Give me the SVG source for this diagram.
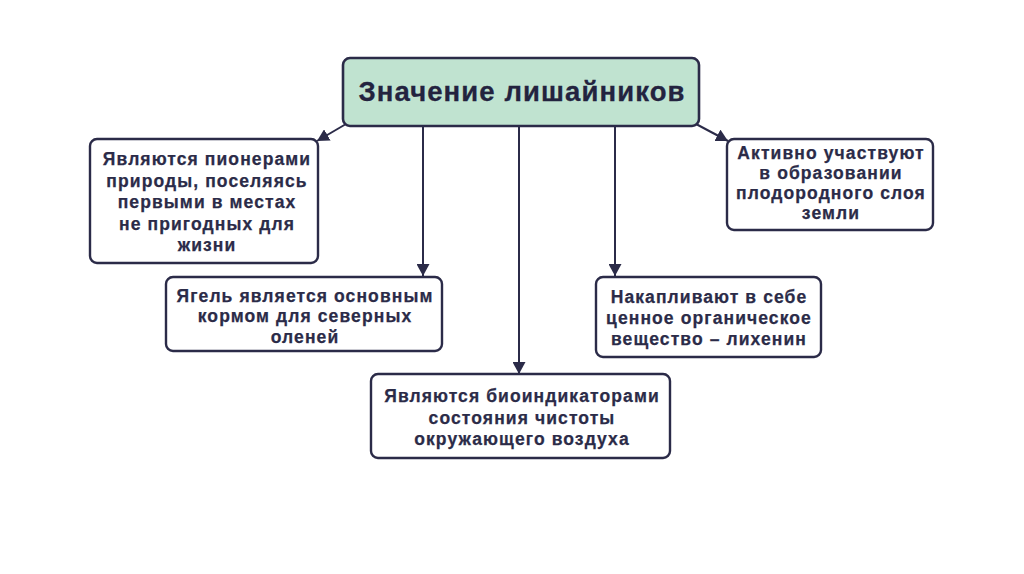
<svg xmlns="http://www.w3.org/2000/svg" width="1024" height="574" viewBox="0 0 1024 574">
<defs>
<style>
.box{fill:#ffffff;stroke:#2b2b48;stroke-width:2.4}
.title{fill:#c0e3d0;stroke:#2b2b48;stroke-width:2.6}
.t{font-family:"Liberation Sans",Arial,sans-serif;font-weight:bold;font-size:17.5px;letter-spacing:1.1px;fill:#2b2b48;stroke:#2b2b48;stroke-width:0.25;text-anchor:middle}
.tt{font-family:"Liberation Sans",Arial,sans-serif;font-weight:bold;font-size:27.5px;letter-spacing:1.1px;fill:#23233f;stroke:#23233f;stroke-width:0.3;text-anchor:middle}
.c{stroke:#2b2b48;stroke-width:2;fill:none}
</style>
<marker id="ah" viewBox="0 0 12 13" refX="12" refY="6.5" markerWidth="12" markerHeight="13" markerUnits="userSpaceOnUse" orient="auto">
<path d="M0,0 L12,6.5 L0,13 z" fill="#2b2b48"/>
</marker>
</defs>
<rect width="1024" height="574" fill="#ffffff"/>
<g id="connectors">
<line class="c" x1="423" y1="127" x2="423" y2="276" marker-end="url(#ah)"/>
<line class="c" x1="519" y1="127" x2="519" y2="374" marker-end="url(#ah)"/>
<line class="c" x1="615" y1="127" x2="615" y2="276" marker-end="url(#ah)"/>
<line class="c" x1="346" y1="124" x2="317" y2="141" marker-end="url(#ah)"/>
<line class="c" x1="696" y1="124" x2="728" y2="141" marker-end="url(#ah)"/>
</g>
<g id="title">
<rect class="title" x="343" y="58" width="356" height="68" rx="7"/>
<text class="tt" x="522" y="100.5">Значение лишайников</text>
</g>
<g id="pioneers">
<rect class="box" x="90" y="139" width="228" height="124" rx="7"/>
<text class="t" x="207" y="165">Являются пионерами</text>
<text class="t" x="207" y="186.5">природы, поселяясь</text>
<text class="t" x="207" y="208">первыми в местах</text>
<text class="t" x="207" y="229.5">не пригодных для</text>
<text class="t" x="207" y="251">жизни</text>
</g>
<g id="soil">
<rect class="box" x="727" y="139" width="206" height="91" rx="7"/>
<text class="t" x="831" y="159">Активно участвуют</text>
<text class="t" x="831" y="179">в образовании</text>
<text class="t" x="831" y="199">плодородного слоя</text>
<text class="t" x="831" y="219">земли</text>
</g>
<g id="yagel">
<rect class="box" x="166" y="277" width="276" height="74" rx="7"/>
<text class="t" x="305" y="302">Ягель является основным</text>
<text class="t" x="305" y="322">кормом для северных</text>
<text class="t" x="305" y="343">оленей</text>
</g>
<g id="lichenin">
<rect class="box" x="596" y="277" width="225" height="80" rx="7"/>
<text class="t" x="709" y="303">Накапливают в себе</text>
<text class="t" x="709" y="324">ценное органическое</text>
<text class="t" x="709" y="345">вещество – лихенин</text>
</g>
<g id="bioindicators">
<rect class="box" x="371" y="374" width="299" height="84" rx="7"/>
<text class="t" x="522" y="402">Являются биоиндикаторами</text>
<text class="t" x="522" y="423.5">состояния чистоты</text>
<text class="t" x="522" y="445">окружающего воздуха</text>
</g>
</svg>
